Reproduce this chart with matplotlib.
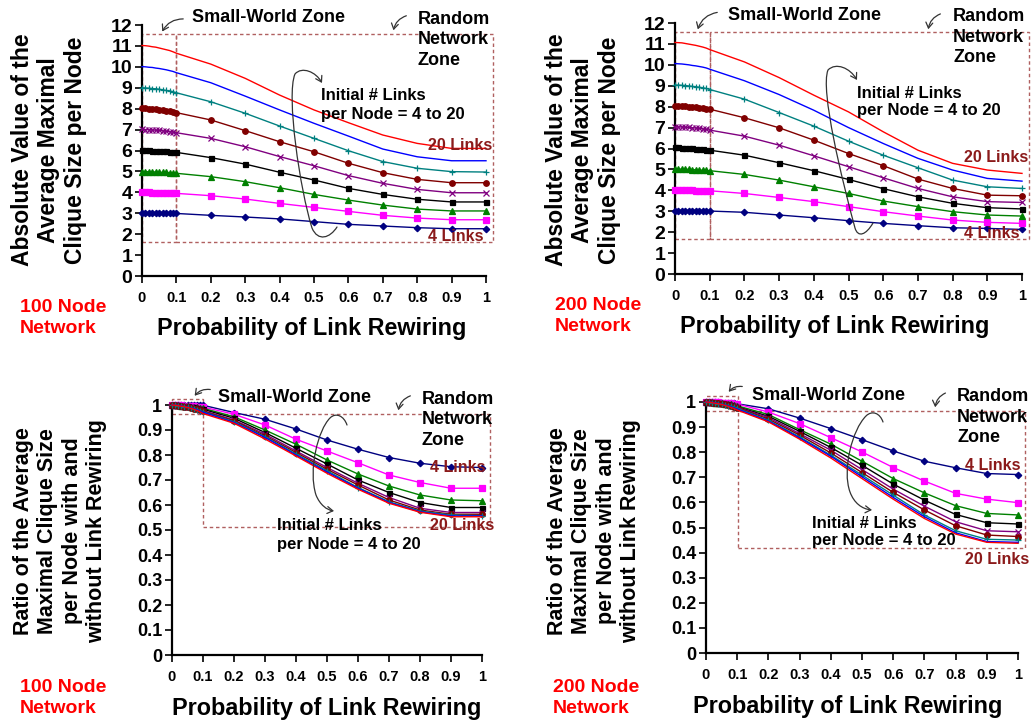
import matplotlib
matplotlib.use("Agg")
import matplotlib.pyplot as plt
from matplotlib.path import Path
from matplotlib.patches import FancyArrowPatch, Rectangle
from matplotlib.ticker import FuncFormatter

plt.rcParams['font.family'] = ['Liberation Sans', 'DejaVu Sans']
plt.rcParams['font.weight'] = 'bold'

W, H = 1033, 721

# ---------------- data ----------------
p_rewire = [0.0, 0.01, 0.02, 0.03, 0.04, 0.05, 0.06, 0.07, 0.08, 0.09, 0.1,
            0.2, 0.3, 0.4, 0.5, 0.6, 0.7, 0.8, 0.9, 1.0]
links = [4, 6, 8, 10, 12, 14, 16, 18, 20]

abs_100 = [
    [3.00, 3.00, 3.00, 3.00, 3.00, 3.00, 3.00, 3.00, 2.99, 2.99, 2.99, 2.90, 2.82, 2.73, 2.60, 2.47, 2.39, 2.31, 2.26, 2.26],
    [4.00, 4.00, 4.00, 3.99, 3.99, 3.98, 3.98, 3.97, 3.97, 3.96, 3.95, 3.84, 3.68, 3.47, 3.28, 3.09, 2.90, 2.77, 2.69, 2.69],
    [4.99, 4.99, 4.98, 4.98, 4.97, 4.96, 4.95, 4.95, 4.94, 4.92, 4.91, 4.75, 4.51, 4.22, 3.90, 3.63, 3.39, 3.20, 3.11, 3.11],
    [6.02, 6.02, 6.01, 6.00, 6.00, 5.99, 5.97, 5.96, 5.95, 5.93, 5.91, 5.66, 5.35, 4.96, 4.59, 4.19, 3.90, 3.67, 3.54, 3.54],
    [7.01, 7.00, 6.99, 6.98, 6.97, 6.96, 6.94, 6.92, 6.90, 6.88, 6.85, 6.58, 6.18, 5.71, 5.27, 4.80, 4.43, 4.14, 3.98, 3.98],
    [8.02, 8.01, 8.00, 7.99, 7.97, 7.95, 7.93, 7.91, 7.88, 7.85, 7.81, 7.46, 6.95, 6.42, 5.94, 5.39, 4.94, 4.62, 4.46, 4.46],
    [9.00, 8.99, 8.98, 8.96, 8.95, 8.93, 8.90, 8.87, 8.85, 8.81, 8.76, 8.33, 7.78, 7.17, 6.58, 5.99, 5.47, 5.15, 4.99, 4.97],
    [10.01, 10.00, 9.98, 9.97, 9.94, 9.92, 9.89, 9.86, 9.82, 9.78, 9.72, 9.24, 8.60, 7.94, 7.30, 6.69, 6.07, 5.70, 5.51, 5.51],
    [11.02, 11.01, 10.99, 10.96, 10.94, 10.90, 10.86, 10.82, 10.78, 10.72, 10.65, 10.13, 9.45, 8.65, 7.94, 7.33, 6.74, 6.34, 6.10, 6.10],
]

abs_200 = [
    [3.03, 3.03, 3.03, 3.03, 3.02, 3.02, 3.02, 3.02, 3.02, 3.01, 3.01, 2.95, 2.82, 2.69, 2.55, 2.42, 2.31, 2.21, 2.18, 2.13],
    [4.01, 4.01, 4.01, 4.00, 4.00, 4.00, 3.99, 3.99, 3.99, 3.98, 3.98, 3.85, 3.66, 3.46, 3.22, 2.98, 2.77, 2.58, 2.47, 2.42],
    [5.02, 5.02, 5.01, 5.01, 5.00, 4.99, 4.98, 4.97, 4.96, 4.95, 4.94, 4.76, 4.49, 4.17, 3.85, 3.49, 3.22, 2.98, 2.82, 2.77],
    [6.05, 6.05, 6.04, 6.03, 6.02, 6.01, 6.00, 5.98, 5.97, 5.95, 5.92, 5.68, 5.32, 4.94, 4.52, 4.08, 3.69, 3.38, 3.17, 3.11],
    [7.04, 7.03, 7.03, 7.02, 7.01, 6.99, 6.98, 6.96, 6.94, 6.91, 6.88, 6.59, 6.16, 5.65, 5.13, 4.60, 4.09, 3.69, 3.46, 3.42],
    [8.04, 8.03, 8.03, 8.02, 8.00, 7.99, 7.97, 7.95, 7.93, 7.91, 7.88, 7.47, 6.99, 6.40, 5.76, 5.18, 4.54, 4.09, 3.77, 3.74],
    [9.04, 9.03, 9.02, 9.01, 8.99, 8.97, 8.95, 8.93, 8.90, 8.87, 8.82, 8.36, 7.72, 7.07, 6.35, 5.68, 5.08, 4.49, 4.17, 4.09],
    [10.06, 10.05, 10.04, 10.02, 10.00, 9.97, 9.95, 9.92, 9.89, 9.85, 9.79, 9.24, 8.58, 7.83, 7.00, 6.24, 5.53, 4.97, 4.57, 4.44],
    [11.07, 11.06, 11.05, 11.02, 10.99, 10.96, 10.93, 10.89, 10.85, 10.80, 10.73, 10.14, 9.39, 8.55, 7.75, 6.80, 5.92, 5.29, 4.97, 4.81],
]

ratio_100 = [
    [1.000, 1.000, 1.000, 1.000, 1.000, 1.000, 1.000, 1.000, 0.999, 0.999, 0.999, 0.970, 0.943, 0.904, 0.860, 0.823, 0.790, 0.767, 0.753, 0.750],
    [1.000, 1.000, 0.999, 0.999, 0.998, 0.997, 0.996, 0.995, 0.994, 0.993, 0.992, 0.963, 0.920, 0.863, 0.816, 0.769, 0.720, 0.690, 0.667, 0.667],
    [1.000, 1.000, 0.999, 0.998, 0.997, 0.996, 0.994, 0.993, 0.991, 0.989, 0.987, 0.953, 0.900, 0.843, 0.780, 0.724, 0.676, 0.640, 0.620, 0.617],
    [1.000, 1.000, 0.999, 0.998, 0.996, 0.995, 0.993, 0.991, 0.989, 0.986, 0.983, 0.947, 0.890, 0.827, 0.764, 0.700, 0.650, 0.610, 0.590, 0.590],
    [1.000, 0.999, 0.998, 0.997, 0.995, 0.993, 0.991, 0.988, 0.985, 0.982, 0.978, 0.940, 0.883, 0.816, 0.750, 0.687, 0.630, 0.587, 0.570, 0.570],
    [1.000, 0.999, 0.998, 0.996, 0.994, 0.992, 0.989, 0.986, 0.983, 0.979, 0.975, 0.937, 0.877, 0.810, 0.743, 0.680, 0.620, 0.580, 0.563, 0.563],
    [1.000, 0.999, 0.998, 0.996, 0.994, 0.992, 0.989, 0.986, 0.982, 0.978, 0.973, 0.933, 0.873, 0.804, 0.737, 0.670, 0.613, 0.576, 0.560, 0.557],
    [1.000, 0.999, 0.998, 0.996, 0.993, 0.991, 0.988, 0.985, 0.981, 0.976, 0.971, 0.930, 0.870, 0.800, 0.732, 0.667, 0.610, 0.573, 0.556, 0.556],
    [1.000, 0.999, 0.997, 0.995, 0.993, 0.990, 0.987, 0.983, 0.978, 0.973, 0.966, 0.927, 0.864, 0.796, 0.727, 0.663, 0.607, 0.571, 0.553, 0.553],
]

ratio_200 = [
    [1.000, 1.000, 1.000, 1.000, 0.999, 0.998, 0.998, 0.997, 0.996, 0.995, 0.993, 0.973, 0.936, 0.894, 0.850, 0.805, 0.764, 0.738, 0.715, 0.711],
    [1.000, 1.000, 1.000, 0.999, 0.999, 0.998, 0.997, 0.996, 0.995, 0.994, 0.992, 0.960, 0.914, 0.858, 0.801, 0.739, 0.685, 0.636, 0.613, 0.599],
    [1.000, 1.000, 0.999, 0.998, 0.997, 0.996, 0.994, 0.993, 0.991, 0.988, 0.985, 0.950, 0.890, 0.832, 0.764, 0.695, 0.638, 0.587, 0.556, 0.550],
    [1.000, 1.000, 0.999, 0.998, 0.996, 0.995, 0.993, 0.991, 0.988, 0.985, 0.981, 0.943, 0.883, 0.819, 0.748, 0.673, 0.609, 0.552, 0.519, 0.514],
    [1.000, 0.999, 0.998, 0.997, 0.996, 0.994, 0.992, 0.989, 0.986, 0.983, 0.979, 0.938, 0.874, 0.808, 0.731, 0.653, 0.585, 0.523, 0.487, 0.483],
    [1.000, 0.999, 0.998, 0.997, 0.995, 0.993, 0.991, 0.988, 0.985, 0.982, 0.978, 0.932, 0.868, 0.797, 0.719, 0.640, 0.570, 0.507, 0.470, 0.464],
    [1.000, 0.999, 0.998, 0.996, 0.994, 0.992, 0.989, 0.986, 0.983, 0.979, 0.975, 0.927, 0.861, 0.788, 0.709, 0.629, 0.550, 0.487, 0.453, 0.450],
    [1.000, 0.999, 0.998, 0.996, 0.994, 0.991, 0.988, 0.985, 0.981, 0.977, 0.972, 0.924, 0.857, 0.784, 0.702, 0.620, 0.543, 0.479, 0.444, 0.441],
    [1.000, 0.999, 0.997, 0.995, 0.993, 0.990, 0.987, 0.983, 0.978, 0.974, 0.968, 0.921, 0.852, 0.777, 0.695, 0.613, 0.536, 0.474, 0.441, 0.437],
]

x_ticks = [0, 0.1, 0.2, 0.3, 0.4, 0.5, 0.6, 0.7, 0.8, 0.9, 1.0]
abs_ticks = list(range(0, 13))
ratio_ticks = [0, 0.1, 0.2, 0.3, 0.4, 0.5, 0.6, 0.7, 0.8, 0.9, 1.0]

# ---------------- styles ----------------
colors = ['#000080', '#FF00FF', '#008000', '#000000', '#800080',
          '#800000', '#008080', '#0000FF', '#FF0000']
markers = ['D', 's', '^', 's', 'x', 'o', '+', 'None', 'None']
msizes = [3.3, 4.8, 4.0, 3.6, 4.2, 4.0, 5.0, 0, 0]
box_color = '#B06060'
label_red = '#8B1A1A'


def fx(x):
    return x / W


def fy(y):
    return 1 - y / H


fig = plt.figure(figsize=(W / 100, H / 100), dpi=100)


def fmt_num(v, pos):
    s = ('%.1f' % v)
    if s.endswith('.0'):
        s = s[:-2]
    return s


def make_axes(rect_px, ydata, ylim, yticks, ytick_fs):
    l, r, t, b = rect_px
    ax = fig.add_axes([fx(l), fy(b), fx(r - l), (b - t) / H])
    for i, ys in enumerate(ydata):
        ax.plot(p_rewire, ys, color=colors[i], lw=1.0, marker=markers[i],
                ms=msizes[i], mew=0.9, clip_on=False, zorder=3 + i)
    ax.set_xlim(0, 1)
    ax.set_ylim(*ylim)
    ax.set_xticks(x_ticks)
    ax.set_yticks(yticks)
    ax.xaxis.set_major_formatter(FuncFormatter(fmt_num))
    ax.yaxis.set_major_formatter(FuncFormatter(fmt_num))
    for s in ['top', 'right']:
        ax.spines[s].set_visible(False)
    for s in ['left', 'bottom']:
        ax.spines[s].set_linewidth(1.6)
    ax.tick_params(axis='y', direction='out', length=5, width=1.2,
                   labelsize=ytick_fs, pad=2)
    ax.tick_params(axis='x', direction='out', length=5, width=1.2,
                   labelsize=10.5, pad=6)
    for lab in ax.get_xticklabels() + ax.get_yticklabels():
        lab.set_fontweight('bold')
    ax.patch.set_alpha(0)
    return ax


def dashed_rect(ax, x0, y0, x1, y1):
    rect = Rectangle((x0, y0), x1 - x0, y1 - y0, fill=False, ec=box_color,
                     lw=1.0, ls=(0, (2.5, 2)), clip_on=False, zorder=2)
    ax.add_patch(rect)


def hook_arrow(p0, p1, rad):
    fig.add_artist(FancyArrowPatch((fx(p0[0]), fy(p0[1])), (fx(p1[0]), fy(p1[1])),
                                   transform=fig.transFigure,
                                   connectionstyle='arc3,rad=%f' % rad,
                                   arrowstyle='->,head_length=4,head_width=2.5',
                                   color='#333333', lw=0.9, zorder=20))


def loop_arrow(pts):
    verts = [(fx(x), fy(y)) for x, y in pts]
    codes = [Path.MOVETO] + [Path.CURVE4] * (len(verts) - 1)
    fig.add_artist(FancyArrowPatch(path=Path(verts, codes),
                                   transform=fig.transFigure,
                                   arrowstyle='->,head_length=4,head_width=2.5',
                                   color='#333333', lw=0.9, zorder=20))


def ftext(x, y, s, size, color='black', ha='left', va='center', **kw):
    fig.text(fx(x), fy(y), s, fontsize=size, color=color, ha=ha, va=va,
             fontweight='bold', **kw)


# ---------------- panels ----------------
ax1 = make_axes((142, 486, 25, 276), abs_100, (0, 12), abs_ticks, 14)
ax2 = make_axes((675, 1022, 23, 274), abs_200, (0, 12), abs_ticks, 14)
ax3 = make_axes((172, 482, 405, 655), ratio_100, (0, 1), ratio_ticks, 13)
ax4 = make_axes((706, 1018, 402, 653), ratio_200, (0, 1), ratio_ticks, 13)

# zone boxes
dashed_rect(ax1, 0, 1.61, 0.1, 11.55)
dashed_rect(ax1, 0.1, 1.61, 1.02, 11.55)
dashed_rect(ax2, 0, 1.66, 0.1, 11.58)
dashed_rect(ax2, 0.1, 1.66, 1.02, 11.58)
dashed_rect(ax3, 0, 0.964, 0.1, 1.024)
dashed_rect(ax3, 0.1, 0.513, 1.026, 0.964)
dashed_rect(ax4, 0, 0.964, 0.104, 1.024)
dashed_rect(ax4, 0.104, 0.417, 1.022, 0.964)

# y labels
ylab_top = 'Absolute Value of the\nAverage Maximal\nClique Size per Node'
ylab_bot = 'Ratio of the Average\nMaximal Clique Size\nper Node with and\nwithout Link Rewiring'
ftext(49, 150, ylab_top, 16.5, ha='center', rotation=90,
      multialignment='center', linespacing=1.2)
ftext(583, 150, ylab_top, 16.5, ha='center', rotation=90,
      multialignment='center', linespacing=1.2)
ftext(60, 531, ylab_bot, 15.5, ha='center', rotation=90,
      multialignment='center', linespacing=1.2)
ftext(594, 531, ylab_bot, 15.5, ha='center', rotation=90,
      multialignment='center', linespacing=1.2)

# x labels
xlab = 'Probability of Link Rewiring'
ftext(312, 328, xlab, 16.8, ha='center')
ftext(835, 326, xlab, 16.8, ha='center')
ftext(327, 709, xlab, 16.8, ha='center')
ftext(848, 706, xlab, 16.8, ha='center')

# network size labels
ftext(20, 318, '100 Node\nNetwork', 14, color='#FF0000', linespacing=1.25)
ftext(555, 316, '200 Node\nNetwork', 14, color='#FF0000', linespacing=1.25)
ftext(20, 698, '100 Node\nNetwork', 14, color='#FF0000', linespacing=1.25)
ftext(553, 698, '200 Node\nNetwork', 14, color='#FF0000', linespacing=1.25)

# zone titles
ftext(268, 18, 'Small-World Zone', 13, ha='center')
ftext(418, 40, 'Random\nNetwork\nZone', 13, linespacing=1.3)
ftext(804, 15, 'Small-World Zone', 13, ha='center')
ftext(953, 37, 'Random\nNetwork\nZone', 13, linespacing=1.3)
ftext(294, 397, 'Small-World Zone', 13, ha='center')
ftext(422, 420, 'Random\nNetwork\nZone', 13, linespacing=1.3)
ftext(828, 395, 'Small-World Zone', 13, ha='center')
ftext(957, 417, 'Random\nNetwork\nZone', 13, linespacing=1.3)

# hook arrows
hook_arrow((186, 19), (161, 34), 0.35)
hook_arrow((409, 15), (393, 33), 0.35)
hook_arrow((720, 12), (697, 32), 0.35)
hook_arrow((943, 13), (928, 32), 0.35)
hook_arrow((213, 390), (193, 398), 0.35)
hook_arrow((413, 395), (398, 413), 0.35)
hook_arrow((745, 387), (727, 394), 0.35)
hook_arrow((948, 392), (935, 410), 0.35)

# initial links text
init_txt = 'Initial # Links\nper Node = 4 to 20'
ftext(321, 105, init_txt, 12, linespacing=1.25)
ftext(857, 102, init_txt, 12, linespacing=1.25)
ftext(277, 535, init_txt, 12, linespacing=1.25)
ftext(812, 532, init_txt, 12, linespacing=1.25)

# loops
loop_arrow([(337, 227), (330, 238), (318, 242), (312, 228),
            (300, 190), (286, 95), (295, 74),
            (302, 66), (316, 72), (322, 83)])
loop_arrow([(873, 223), (866, 235), (858, 238), (855, 228),
            (842, 180), (820, 90), (828, 70),
            (836, 62), (850, 68), (857, 80)])
loop_arrow([(347, 425), (344, 416), (336, 412), (330, 418),
            (318, 430), (308, 470), (316, 495),
            (320, 505), (327, 510), (334, 511)])
loop_arrow([(883, 422), (880, 413), (872, 410), (866, 416),
            (852, 430), (842, 470), (850, 492),
            (854, 503), (862, 509), (872, 510)])

# series end labels
ftext(428, 145, '20 Links', 11.5, color=label_red)
ftext(428, 236, '4 Links', 11.5, color=label_red)
ftext(964, 157, '20 Links', 11.5, color=label_red)
ftext(964, 233, '4 Links', 11.5, color=label_red)
ftext(430, 525, '20 Links', 11.5, color=label_red)
ftext(430, 468, '4 Links', 11.5, color=label_red)
ftext(965, 560, '20 Links', 11.5, color=label_red)
ftext(965, 465, '4 Links', 11.5, color=label_red)

fig.savefig('out.png', dpi=100)
